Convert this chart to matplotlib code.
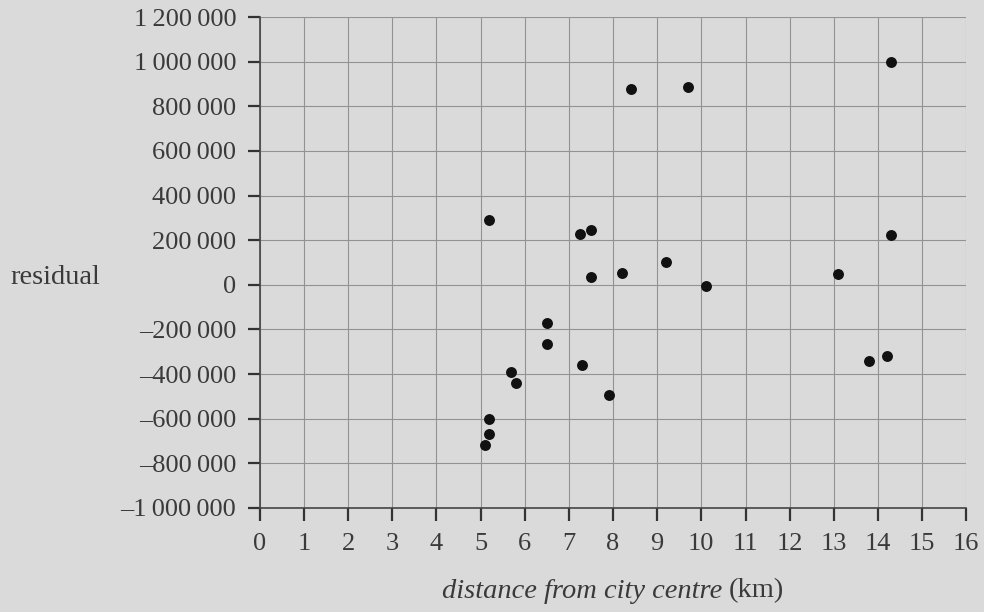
import matplotlib
matplotlib.use("Agg")
import matplotlib.pyplot as plt

# data
distance_km = [14.3, 8.4, 9.7, 5.2, 7.25, 7.5, 14.3, 7.5, 8.2, 9.2, 10.1, 13.1,
               13.8, 14.2, 6.5, 6.5, 5.7, 5.8, 7.3, 7.9, 5.2, 5.2, 5.1]
residual = [1000000, 880000, 885000, 290000, 227000, 247000, 225000, 33000, 52000,
            102000, -5000, 47000, -340000, -320000, -170000, -267000, -392000,
            -442000, -359000, -493000, -600000, -670000, -720000]

x_ticks = list(range(0, 17))
y_ticks = [-1000000, -800000, -600000, -400000, -200000, 0, 200000, 400000,
           600000, 800000, 1000000, 1200000]

def fmt(v):
    s = f"{abs(v):,}".replace(",", "\u2009")
    return ("\u2013" + s) if v < 0 else s

bg = "#dadada"
ink = "#3a3a3a"
plt.rcParams['font.family'] = ['Liberation Serif', 'DejaVu Serif']

fig = plt.figure(figsize=(9.84, 6.12), dpi=100, facecolor=bg)
ax = fig.add_axes([0.264, 0.17, 0.718, 0.802])
ax.set_facecolor(bg)

ax.scatter(distance_km, residual, s=62, color="#111111", zorder=3, linewidths=0)

ax.set_xlim(0, 16)
ax.set_ylim(-1000000, 1200000)
ax.set_xticks(x_ticks)
ax.set_xticklabels([str(t) for t in x_ticks])
ax.set_yticks(y_ticks)
ax.set_yticklabels([fmt(v) for v in y_ticks])

ax.grid(True, color="#929292", linewidth=0.8)
ax.set_axisbelow(True)
for s in ["top", "right"]:
    ax.spines[s].set_visible(False)
for s in ["left", "bottom"]:
    ax.spines[s].set_color("#444444")
    ax.spines[s].set_linewidth(1.2)

ax.tick_params(axis="both", direction="out", length=9, width=1.6, color="#333333",
               labelsize=19, labelcolor=ink)
ax.tick_params(axis="x", pad=9)
ax.tick_params(axis="y", pad=8)

# x label: italic part + upright unit, centred together under the axes
renderer = fig.canvas.get_renderer()
ylab = 1 - 591 / 612
t1 = fig.text(0, ylab, "distance from city centre", fontsize=20.5, color=ink,
              style="italic", ha="left", va="center")
t2 = fig.text(0, ylab, "(km)", fontsize=20.5, color=ink, ha="left", va="center")
w1 = t1.get_window_extent(renderer).width / fig.bbox.width
w2 = t2.get_window_extent(renderer).width / fig.bbox.width
gap = 6 / fig.bbox.width
total = w1 + gap + w2
cx = 0.264 + 0.718 / 2
t1.set_x(cx - total / 2)
t2.set_x(cx - total / 2 + w1 + gap)

fig.text(55 / 984, 1 - 278 / 612, "residual", fontsize=20.5, color=ink,
         ha="center", va="center")

fig.savefig("out.png", dpi=100, facecolor=bg)
